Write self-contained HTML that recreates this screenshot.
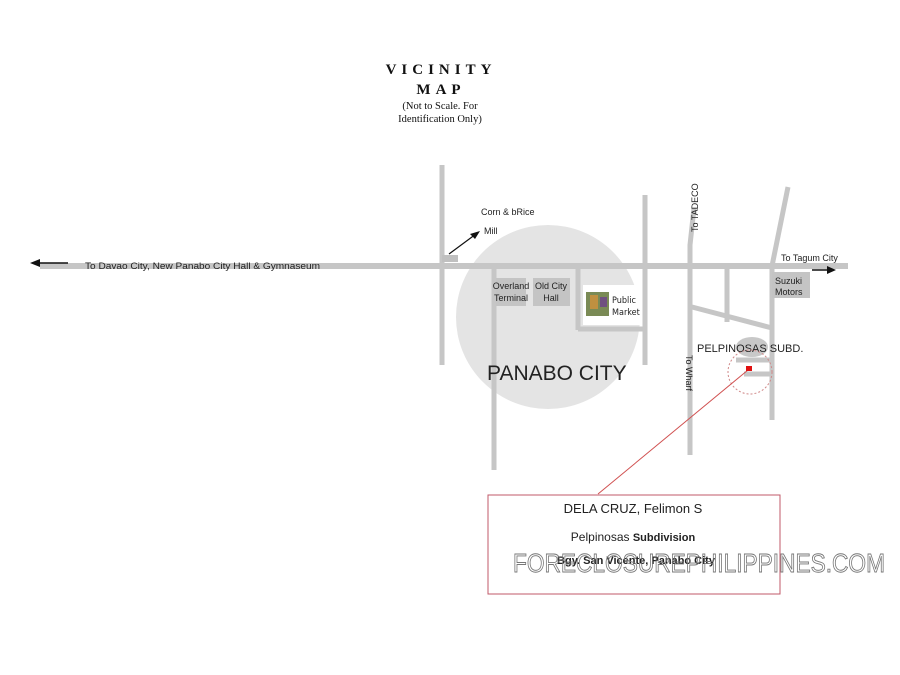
<!DOCTYPE html>
<html><head><meta charset="utf-8"><style>
html,body{margin:0;padding:0;background:#fff;width:900px;height:675px;overflow:hidden}
svg{display:block}
</style></head><body>
<svg width="900" height="675" viewBox="0 0 900 675" xmlns="http://www.w3.org/2000/svg">
<rect width="900" height="675" fill="#fff"/>
<g font-family="Liberation Serif, serif" fill="#111" text-anchor="middle">
<text x="441" y="74" font-size="15" font-weight="bold" letter-spacing="5">VICINITY</text>
<text x="441" y="94" font-size="15" font-weight="bold" letter-spacing="5">MAP</text>
<text x="440" y="109" font-size="10.5">(Not to Scale. For</text>
<text x="440" y="122" font-size="10.5">Identification Only)</text>
</g>
<circle cx="548" cy="317" r="92" fill="#e4e4e4"/>
<g stroke="#c6c6c6" stroke-width="5" fill="none">
<line x1="40" y1="266" x2="848" y2="266" stroke-width="6"/>
<line x1="442" y1="165" x2="442" y2="365"/>
<line x1="494" y1="266" x2="494" y2="470"/>
<line x1="578" y1="266" x2="578" y2="330"/>
<line x1="578" y1="329" x2="645" y2="329"/>
<line x1="645" y1="195" x2="645" y2="365"/>
<polyline points="694,208 690,245 690,455"/>
<line x1="788" y1="187" x2="772" y2="266"/>
<line x1="772" y1="266" x2="772" y2="420"/>
<line x1="727" y1="266" x2="727" y2="322"/>
<line x1="692" y1="307" x2="772" y2="328"/>
<line x1="736" y1="360" x2="770" y2="360"/>
<line x1="744" y1="374" x2="770" y2="374"/>
</g>
<rect x="442" y="255" width="16" height="7" fill="#c0c0c0"/>
<ellipse cx="752" cy="347" rx="16" ry="10" fill="#c8c8c8"/>
<line x1="449" y1="254" x2="476" y2="234" stroke="#111" stroke-width="1.2"/>
<polygon points="480,231 470,234 475,239" fill="#111"/>
<line x1="40" y1="263" x2="68" y2="263" stroke="#111" stroke-width="1.5"/>
<polygon points="30,263 40,259 40,267" fill="#111"/>
<line x1="812" y1="270" x2="830" y2="270" stroke="#111" stroke-width="1.5"/>
<polygon points="836,270 827,266 827,274" fill="#111"/>
<rect x="496" y="278" width="30" height="28" fill="#c4c4c4"/>
<rect x="533" y="278" width="37" height="28" fill="#c4c4c4"/>
<rect x="583" y="285" width="57" height="40" fill="#fff"/>
<rect x="586" y="292" width="23" height="24" fill="#7a8a55"/>
<rect x="590" y="295" width="8" height="14" fill="#c09040"/>
<rect x="600" y="297" width="7" height="10" fill="#705080"/>
<rect x="772" y="272" width="38" height="26" fill="#c4c4c4"/>
<g font-family="Liberation Sans, sans-serif" fill="#222">
<text x="85" y="269" font-size="9" textLength="235" lengthAdjust="spacingAndGlyphs">To Davao City, New Panabo City Hall &amp; Gymnaseum</text>
<text x="481" y="215" font-size="9">Corn &amp; bRice</text>
<text x="484" y="234" font-size="9">Mill</text>
<text x="511" y="289" font-size="9" text-anchor="middle">Overland</text>
<text x="511" y="301" font-size="9" text-anchor="middle">Terminal</text>
<text x="551" y="289" font-size="9" text-anchor="middle">Old City</text>
<text x="551" y="301" font-size="9" text-anchor="middle">Hall</text>
<text x="612" y="303" font-size="9" font-family="DejaVu Sans Condensed, sans-serif">Public</text>
<text x="612" y="315" font-size="9" font-family="DejaVu Sans Condensed, sans-serif">Market</text>
<text x="775" y="284" font-size="9">Suzuki</text>
<text x="775" y="295" font-size="9">Motors</text>
<text x="781" y="261" font-size="9">To Tagum City</text>
<text transform="translate(698,232) rotate(-90)" font-size="9">To TADECO</text>
<text transform="translate(686,355) rotate(90)" font-size="9">To Wharf</text>
<text x="487" y="380" font-size="21">PANABO CITY</text>
<text x="697" y="352" font-size="11">PELPINOSAS  SUBD.</text>
</g>
<circle cx="750" cy="372" r="22" fill="none" stroke="#d08888" stroke-width="1" stroke-dasharray="2,2"/>
<line x1="748" y1="370" x2="598" y2="494" stroke="#d05050" stroke-width="1"/>
<rect x="746" y="366" width="6" height="5" fill="#e01010"/>
<rect x="488" y="495" width="292" height="99" fill="none" stroke="#c05a68" stroke-width="1"/>
<g text-anchor="middle" fill="#222">
<text x="633" y="513" font-family="Liberation Sans, sans-serif" font-size="13">DELA CRUZ, Felimon S</text>
<text x="633" y="541" font-family="Liberation Sans, sans-serif" font-size="12">Pelpinosas <tspan font-weight="bold" font-size="11">Subdivision</tspan></text>
<text x="636" y="564" font-family="Liberation Sans, sans-serif" font-size="11" font-weight="bold">Bgy. San Vicente, Panabo City</text>
</g>
<text x="513" y="572" font-family="Liberation Sans, sans-serif" font-size="26" fill="none" stroke="#777" stroke-width="0.9" textLength="372" lengthAdjust="spacingAndGlyphs">FORECLOSUREPHILIPPINES.COM</text>
</svg>
</body></html>
